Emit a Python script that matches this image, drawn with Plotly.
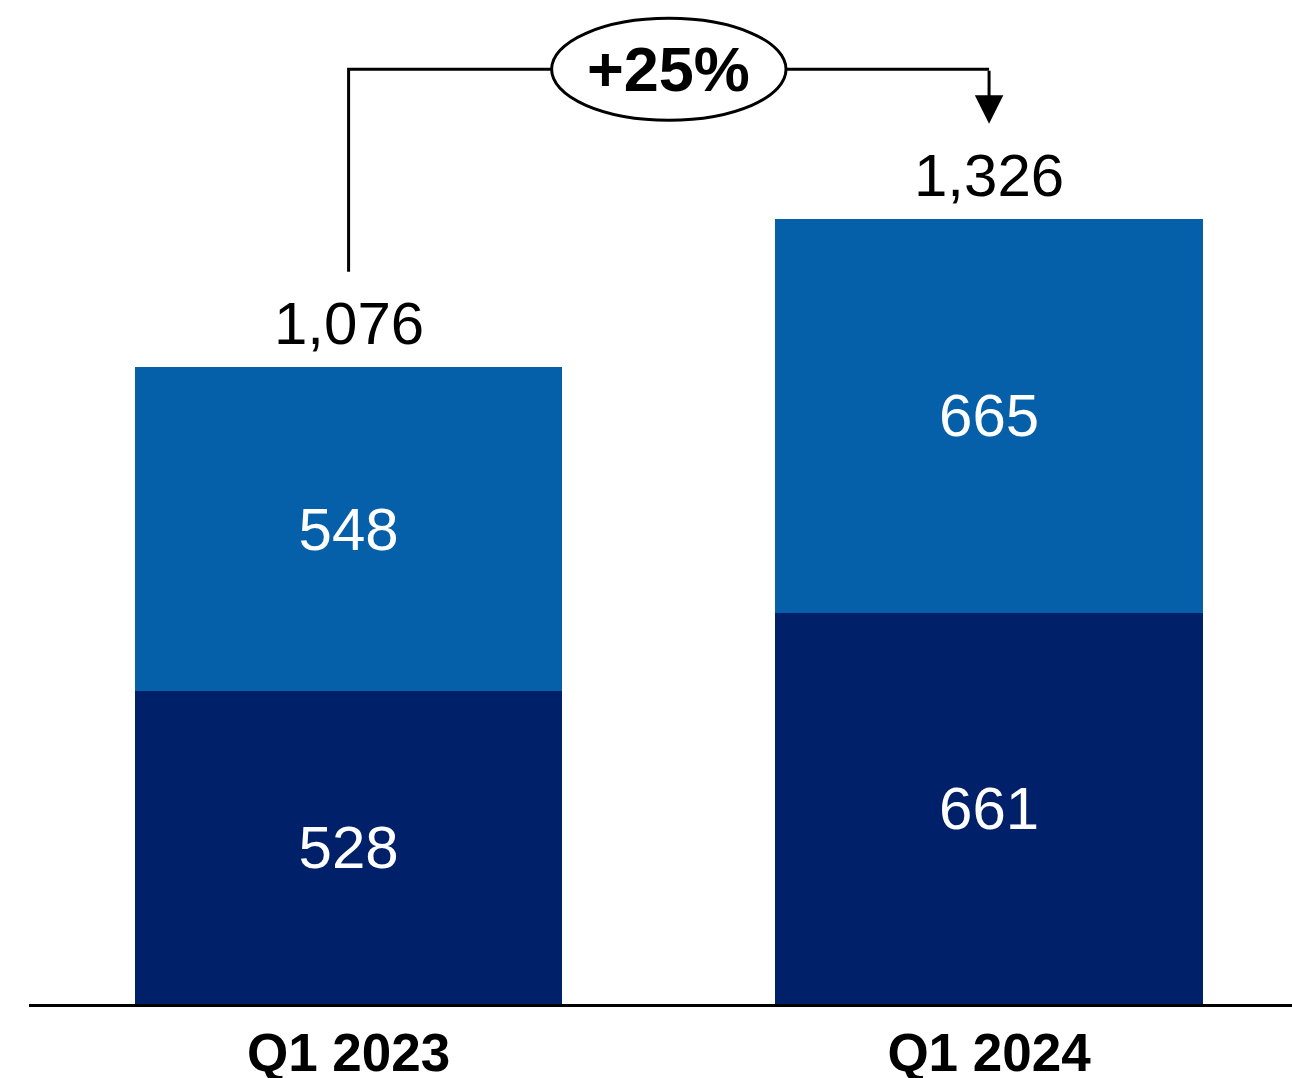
import plotly.graph_objects as go

categories = ["Q1 2023", "Q1 2024"]
bottom_values = [528, 661]
top_values = [548, 665]
totals = [1076, 1326]
growth_label = "+25%"

DARK_BLUE = "#00216A"
LIGHT_BLUE = "#0560A9"
FONT = "Liberation Sans, Arial, sans-serif"

fig = go.Figure()

# stacked bars
fig.add_trace(
    go.Bar(
        x=categories,
        y=bottom_values,
        marker=dict(color=DARK_BLUE, line=dict(width=0)),
        text=[str(v) for v in bottom_values],
        textposition="inside",
        insidetextanchor="middle",
        textfont=dict(color="white", size=60, family=FONT),
        constraintext="none",
        hoverinfo="skip",
    )
)
fig.add_trace(
    go.Bar(
        x=categories,
        y=top_values,
        marker=dict(color=LIGHT_BLUE, line=dict(width=0)),
        text=[str(v) for v in top_values],
        textposition="inside",
        insidetextanchor="middle",
        textfont=dict(color="white", size=60, family=FONT),
        constraintext="none",
        hoverinfo="skip",
    )
)

# totals above bars
for cat, total in zip(categories, totals):
    fig.add_annotation(
        x=cat,
        y=total,
        text=f"{total:,}",
        showarrow=False,
        yanchor="bottom",
        yshift=8,
        font=dict(size=60, color="black", family=FONT),
    )

# growth connector
gap = 161
bracket_top = max(totals) + 253
fig.add_trace(
    go.Scatter(
        x=[categories[0], categories[0], categories[1]],
        y=[totals[0] + gap, bracket_top, bracket_top],
        mode="lines",
        line=dict(color="black", width=3),
        hoverinfo="skip",
    )
)
fig.add_annotation(
    x=categories[1],
    y=totals[1] + gap,
    ax=0,
    ay=bracket_top,
    ayref="y",
    text="",
    showarrow=True,
    arrowhead=2,
    arrowsize=1.9,
    arrowwidth=3,
    arrowcolor="black",
)

# ellipse with growth label
fig.add_shape(
    type="circle",
    xref="x",
    yref="y",
    x0=0.5 - 0.183,
    x1=0.5 + 0.183,
    y0=bracket_top - 86,
    y1=bracket_top + 86,
    line=dict(color="black", width=3),
    fillcolor="white",
    layer="above",
)
fig.add_annotation(
    x=0.5,
    y=bracket_top,
    text=f"<b>{growth_label}</b>",
    showarrow=False,
    font=dict(size=63, color="black", family=FONT),
)

fig.update_layout(
    template="none",
    barmode="stack",
    bargap=0.333,
    width=1292,
    height=1078,
    margin=dict(l=29, r=0, t=0, b=74),
    paper_bgcolor="white",
    plot_bgcolor="white",
    showlegend=False,
    xaxis=dict(
        range=[-0.499, 1.473],
        showline=True,
        linecolor="black",
        linewidth=3,
        showgrid=False,
        zeroline=False,
        ticks="",
        tickfont=dict(size=53, color="black", family=FONT, weight="bold"),
        automargin=False,
    ),
    yaxis=dict(
        range=[0, 1696],
        visible=False,
        showgrid=False,
        zeroline=False,
    ),
)

fig.write_html(
    "out.html",
    config={"displayModeBar": False},
    post_script="document.body.style.margin='0';document.body.style.overflow='hidden';",
)
